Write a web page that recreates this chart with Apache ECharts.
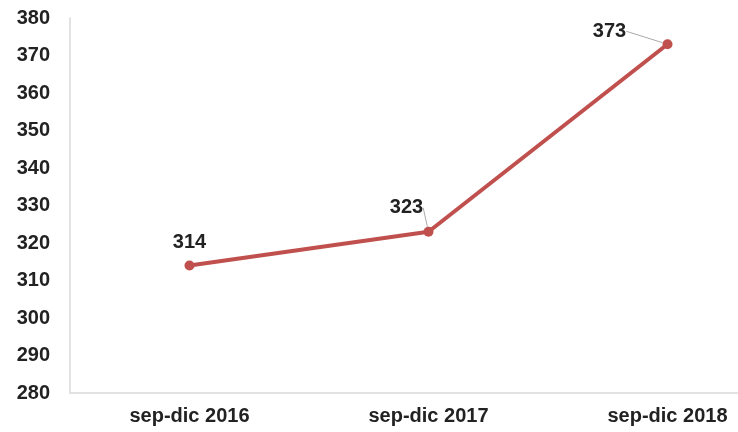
<!DOCTYPE html>
<html>
<head>
<meta charset="utf-8">
<script src="https://cdn.jsdelivr.net/npm/echarts@6/dist/echarts.min.js"></script>
<style>
  html, body { margin: 0; padding: 0; background: #fff; overflow: hidden; }
  #chart { width: 787px; height: 432px; }
</style>
</head>
<body>
<div id="chart"></div>
<script>
// data
const categories = ['sep-dic 2016', 'sep-dic 2017', 'sep-dic 2018'];
const values = [314, 323, 373];
const yTicks = { min: 280, max: 380, interval: 10 };

// label nudges (px), per point
const labelDx = [0, -22, -58];
const labelDy = [-3, -4, 7];
const showLeader = [false, true, true];

const chart = echarts.init(document.getElementById('chart'));
const font = 'Arial, "Liberation Sans", sans-serif';

chart.setOption({
  animation: false,
  grid: { left: 70, right: 0, top: 18, bottom: 39 },
  xAxis: {
    type: 'category',
    data: categories,
    boundaryGap: true,
    axisLine: { lineStyle: { color: '#d9d9d9', width: 1.5 } },
    axisTick: { show: false },
    axisLabel: { color: '#222', fontFamily: font, fontWeight: 'bold', fontSize: 20, margin: 13 }
  },
  yAxis: {
    type: 'value',
    min: yTicks.min,
    max: yTicks.max,
    interval: yTicks.interval,
    axisLine: { show: true, lineStyle: { color: '#d9d9d9', width: 1.5 } },
    axisTick: { show: false },
    splitLine: { show: false },
    axisLabel: { color: '#222', fontFamily: font, fontWeight: 'bold', fontSize: 20, margin: 20 }
  },
  series: [{
    type: 'line',
    data: values.map((v, i) => ({ value: v, labelLine: { show: showLeader[i] } })),
    symbol: 'circle',
    symbolSize: 10,
    lineStyle: { color: '#c0504d', width: 4 },
    itemStyle: { color: '#c0504d' },
    label: {
      show: true,
      position: 'top',
      distance: 5,
      color: '#222',
      fontFamily: font,
      fontWeight: 'bold',
      fontSize: 20
    },
    labelLine: { show: true, lineStyle: { color: '#aaa', width: 1 } },
    labelLayout: function (p) {
      return { dx: labelDx[p.dataIndex], dy: labelDy[p.dataIndex] };
    }
  }]
});
</script>
</body>
</html>
